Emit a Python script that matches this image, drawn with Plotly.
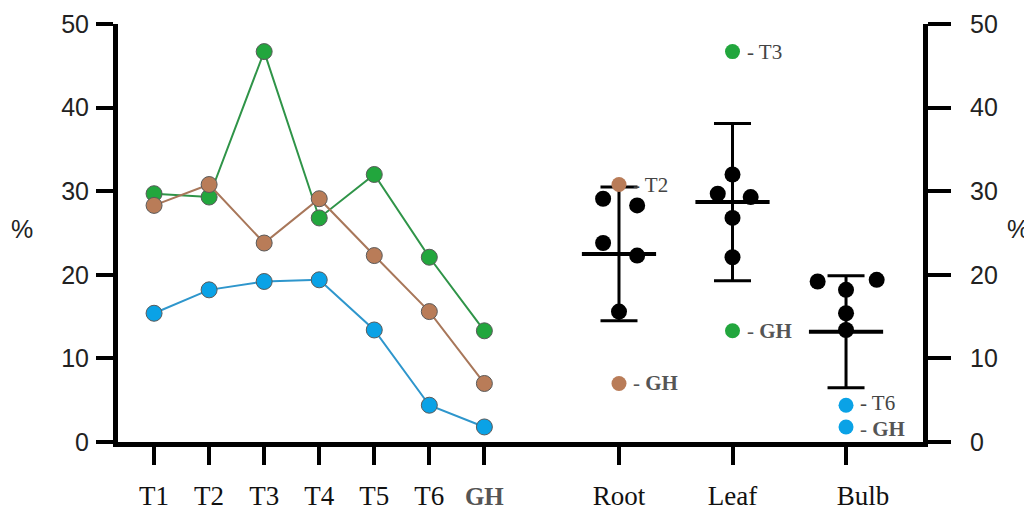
import plotly.graph_objects as go

# ---------------- data ----------------
treatments = ["T1", "T2", "T3", "T4", "T5", "T6", "GH"]
root_vals = [28.3, 30.8, 23.8, 29.1, 22.3, 15.6, 7.0]    # brown line
leaf_vals = [29.7, 29.3, 46.7, 26.8, 32.0, 22.1, 13.3]   # green line
bulb_vals = [15.4, 18.2, 19.2, 19.4, 13.4, 4.4, 1.8]     # blue line

organs = ["Root", "Leaf", "Bulb"]
organ_mean = [22.5, 28.7, 13.2]
organ_sd = [8.0, 9.4, 6.7]
highlighted = [["T2", "GH"], ["T3", "GH"], ["T6", "GH"]]

y_ticks = [0, 10, 20, 30, 40, 50]

# ---------------- style ----------------
GREEN, GREEN_LINE = "#22a63d", "#2f9448"
BROWN, BROWN_LINE = "#b97c58", "#a8775a"
BLUE, BLUE_LINE = "#0aa2e6", "#2e96cc"
organ_colors = [BROWN, GREEN, BLUE]
# horizontal scatter offsets of the black points (per organ, per treatment)
jitter = [
    {"T1": 0.16, "T3": -0.14, "T4": -0.14, "T5": 0.16, "T6": 0.0},
    {"T1": -0.13, "T2": 0.16, "T4": 0.0, "T5": 0.0, "T6": 0.0},
    {"T1": 0.0, "T2": 0.0, "T3": -0.25, "T4": 0.27, "T5": 0.0},
]
# small vertical nudges of the point labels (px), per organ
label_nudge = [[0, 0], [0, 0], [2, -2]]
# leading padding of organ tick labels (the Bulb label sits right of its tick)
organ_pad = ["", "", "&nbsp;" * 5]
SERIF = "Liberation Serif"
SANS = "Liberation Sans"

organ_series = [root_vals, leaf_vals, bulb_vals]

fig = go.Figure()

# ---------------- left panel: lines ----------------
idx = list(range(len(treatments)))
for vals, fill, lc in [(leaf_vals, GREEN, GREEN_LINE),
                       (root_vals, BROWN, BROWN_LINE),
                       (bulb_vals, BLUE, BLUE_LINE)]:
    fig.add_trace(go.Scatter(
        x=idx, y=vals, mode="lines+markers",
        line=dict(color=lc, width=2),
        marker=dict(size=16, color=fill, line=dict(color="#5a5a5a", width=1)),
        xaxis="x", yaxis="y", showlegend=False, hoverinfo="skip"))

# ---------------- right panel ----------------
oidx = list(range(len(organs)))
fig.add_trace(go.Scatter(
    x=oidx, y=organ_mean, mode="markers",
    marker=dict(symbol="line-ew", size=53, color="black",
                line=dict(color="black", width=4)),
    error_y=dict(type="data", array=organ_sd, visible=True,
                 color="black", thickness=3, width=18.5),
    xaxis="x2", yaxis="y2", showlegend=False, hoverinfo="skip"))

bx, by = [], []
for i, vals in enumerate(organ_series):
    for t, v in zip(treatments, vals):
        if t in highlighted[i]:
            continue
        bx.append(i + jitter[i][t])
        by.append(v)
fig.add_trace(go.Scatter(
    x=bx, y=by, mode="markers",
    marker=dict(size=16, color="black"),
    xaxis="x2", yaxis="y2", showlegend=False, hoverinfo="skip"))

annotations = []
for i, vals in enumerate(organ_series):
    hx, hy = [], []
    for j, t in enumerate(highlighted[i]):
        v = vals[treatments.index(t)]
        hx.append(i)
        hy.append(v)
        if t == "GH":
            txt = "- <b>GH</b>"
            col = "#555555"
        else:
            txt = "- " + t
            col = "#444444"
        annotations.append(dict(
            x=i, y=v, xref="x2", yref="y2", text=txt, showarrow=False,
            xanchor="left", yanchor="middle", xshift=12,
            yshift=label_nudge[i][j],
            font=dict(family=SERIF, size=21, color=col)))
    fig.add_trace(go.Scatter(
        x=hx, y=hy, mode="markers",
        marker=dict(size=15, color=organ_colors[i]),
        xaxis="x2", yaxis="y2", showlegend=False, hoverinfo="skip"))

# "%" labels
annotations.append(dict(x=-0.119, y=0.509, xref="paper", yref="paper",
                        text="%", showarrow=False, xanchor="center",
                        yanchor="middle",
                        font=dict(family=SANS, size=25, color="#222")))
annotations.append(dict(x=1.118, y=0.509, xref="paper", yref="paper",
                        text="%", showarrow=False, xanchor="center",
                        yanchor="middle",
                        font=dict(family=SANS, size=25, color="#222")))

ticktext_left = [t if t != "GH" else
                 '<span style="font-weight:bold;fill:#555555;font-size:25px">GH</span>'
                 for t in treatments]
ticktext_right = [p + o for p, o in zip(organ_pad, organs)]

axis_common = dict(showgrid=False, zeroline=False, showline=True,
                   linecolor="black", linewidth=5, ticks="outside",
                   tickcolor="black", tickwidth=4, automargin=False)

split = 0.5242
fig.update_layout(
    width=1024, height=504,
    margin=dict(l=110, r=109, t=16, b=70),
    paper_bgcolor="white", plot_bgcolor="white",
    xaxis=dict(domain=[0, split], range=[-0.655, 7.01], anchor="y",
               tickmode="array", tickvals=idx, ticktext=ticktext_left,
               ticklen=18, ticklabelstandoff=8,
               tickfont=dict(family=SERIF, size=27, color="#111"),
               **axis_common),
    xaxis2=dict(domain=[split, 1], range=[-0.696, 2.678], anchor="y2",
                tickmode="array", tickvals=oidx, ticktext=ticktext_right,
                ticklen=18, ticklabelstandoff=8,
                tickfont=dict(family=SERIF, size=27, color="#111"),
                **axis_common),
    yaxis=dict(range=[0, 50], anchor="x", side="left",
               tickmode="array", tickvals=y_ticks,
               ticklen=17, ticklabelstandoff=2,
               tickfont=dict(family=SANS, size=25, color="#222"),
               **axis_common),
    yaxis2=dict(range=[0, 50], anchor="x2", side="right",
                tickmode="array", tickvals=y_ticks,
                ticklen=23, ticklabelstandoff=14,
                tickfont=dict(family=SANS, size=25, color="#222"),
                **axis_common),
    annotations=annotations,
)

fig.write_html("out.html")
